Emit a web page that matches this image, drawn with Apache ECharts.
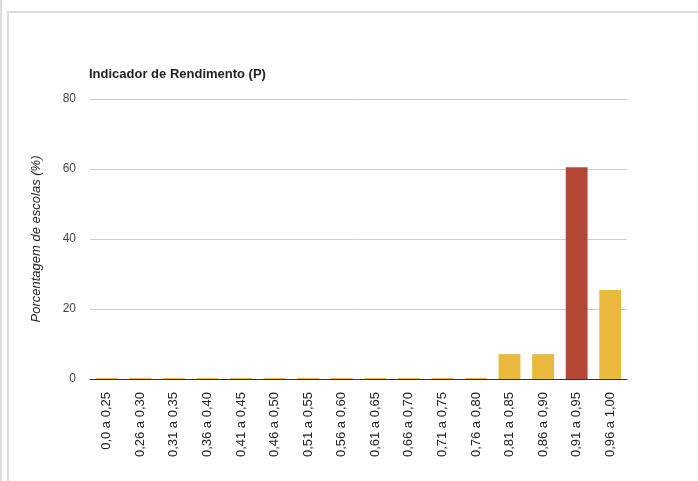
<!DOCTYPE html>
<html>
<head>
<meta charset="utf-8">
<script src="https://cdn.jsdelivr.net/npm/echarts@6/dist/echarts.min.js"></script>
<style>
  html, body { margin: 0; padding: 0; background: #fff; }
  #chart { width: 698px; height: 481px; }
</style>
</head>
<body>
<div id="chart"></div>
<script>
// Faixas do indicador de rendimento
const categories = [
  '0,0 a 0,25', '0,26 a 0,30', '0,31 a 0,35', '0,36 a 0,40',
  '0,41 a 0,45', '0,46 a 0,50', '0,51 a 0,55', '0,56 a 0,60',
  '0,61 a 0,65', '0,66 a 0,70', '0,71 a 0,75', '0,76 a 0,80',
  '0,81 a 0,85', '0,86 a 0,90', '0,91 a 0,95', '0,96 a 1,00'
];
// Porcentagem de escolas em cada faixa
const values = [0, 0, 0, 0, 0, 0, 0, 0, 0, 0, 0, 0, 7.1, 7.1, 60.5, 25.4];
// Faixa destacada (a da escola)
const highlightCategory = '0,91 a 0,95';
const yTicks = [0, 20, 40, 60, 80];

const YELLOW = '#e9b83d';
const RED = '#b54835';

const chart = echarts.init(document.getElementById('chart'));
chart.setOption({
  animation: false,
  textStyle: { fontFamily: 'Liberation Sans, Arial, sans-serif' },
  title: {
    text: 'Indicador de Rendimento (P)',
    left: 84, top: 63,
    textStyle: { fontSize: 13, fontWeight: 'bold', color: '#222' }
  },
  graphic: [
    { type: 'line', shape: { x1: 1, y1: 0, x2: 1, y2: 481 }, style: { stroke: '#dcdcdc', lineWidth: 2 } },
    { type: 'line', shape: { x1: 8, y1: 12, x2: 8, y2: 481 }, style: { stroke: '#dcdcdc', lineWidth: 2 } },
    { type: 'line', shape: { x1: 7, y1: 12, x2: 698, y2: 12 }, style: { stroke: '#dcdcdc', lineWidth: 2 } }
  ],
  grid: { left: 90, right: 71, top: 99, bottom: 102, containLabel: false },
  xAxis: {
    type: 'category',
    data: categories,
    axisLine: { lineStyle: { color: '#333', width: 1 } },
    axisTick: { show: false },
    axisLabel: { rotate: 90, margin: 13, fontSize: 13, color: '#222', interval: 0 }
  },
  yAxis: {
    type: 'value',
    min: yTicks[0], max: yTicks[yTicks.length - 1], interval: yTicks[1] - yTicks[0],
    name: 'Porcentagem de escolas (%)',
    nameLocation: 'middle',
    nameGap: 47,
    nameTextStyle: { fontSize: 13, fontStyle: 'italic', color: '#222' },
    axisLine: { show: false },
    axisTick: { show: false },
    axisLabel: { fontSize: 12, color: '#444', margin: 14 },
    splitLine: { lineStyle: { color: '#cccccc' } }
  },
  series: [{
    type: 'bar',
    data: values.map((v, i) => ({
      value: v,
      itemStyle: { color: categories[i] === highlightCategory ? RED : YELLOW }
    })),
    barCategoryGap: '35%',
    barMinHeight: 1
  }]
});
</script>
</body>
</html>
